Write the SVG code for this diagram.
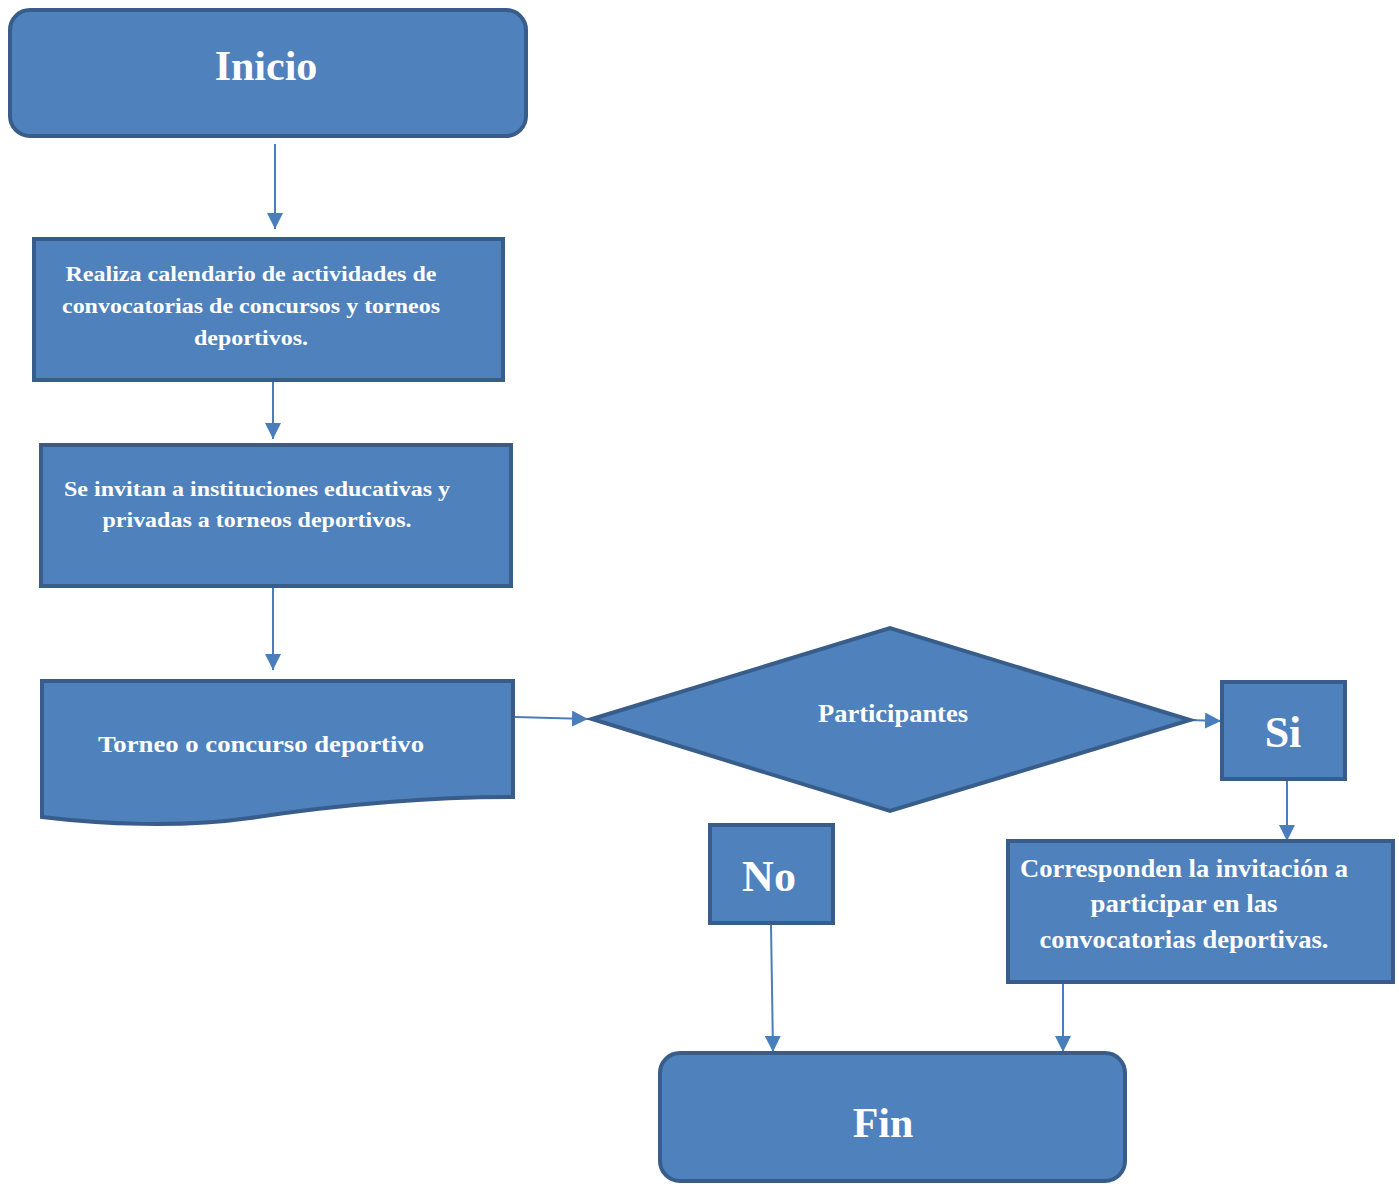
<svg xmlns="http://www.w3.org/2000/svg" width="1399" height="1184" viewBox="0 0 1399 1184">
<defs>
<style>
.n{fill:#4F81BD;stroke:#385D8A;stroke-width:4}
.t{fill:#FFFFFF;font-family:"Liberation Serif","Times New Roman",serif;font-weight:bold;text-anchor:middle}
.c{stroke:#4A7EBB;stroke-width:2;fill:none;marker-end:url(#ah)}
</style>
<marker id="ah" viewBox="0 0 10 10" refX="10" refY="5" markerWidth="16" markerHeight="16" markerUnits="userSpaceOnUse" orient="auto">
<path d="M0,0 L10,5 L0,10 Z" fill="#4A7EBB"/>
</marker>
</defs>
<rect width="1399" height="1184" fill="#FFFFFF"/>
<g id="connectors">
<line x1="275" y1="144" x2="275" y2="229" class="c"/>
<line x1="273" y1="381" x2="273" y2="439" class="c"/>
<line x1="273" y1="587" x2="273" y2="670" class="c"/>
<line x1="515" y1="717" x2="588" y2="719" class="c"/>
<line x1="1188" y1="720" x2="1221" y2="721" class="c"/>
<line x1="1287" y1="748" x2="1287" y2="841" class="c"/>
<line x1="771" y1="924" x2="773" y2="1052" class="c"/>
<line x1="1063" y1="983" x2="1063" y2="1052" class="c"/>
</g>
<g id="inicio">
<rect x="10" y="10" width="516" height="126" rx="20" class="n"/>
<text x="266" y="80" class="t" font-size="42">Inicio</text>
</g>
<g id="calendario">
<rect x="34" y="239" width="469" height="141" class="n"/>
<text x="251" y="281" class="t" font-size="22" textLength="371" lengthAdjust="spacingAndGlyphs">Realiza calendario de actividades de</text>
<text x="251" y="313" class="t" font-size="22" textLength="378" lengthAdjust="spacingAndGlyphs">convocatorias de concursos y torneos</text>
<text x="251" y="345" class="t" font-size="22" textLength="114" lengthAdjust="spacingAndGlyphs">deportivos.</text>
</g>
<g id="invitan">
<rect x="41" y="445" width="470" height="141" class="n"/>
<text x="257" y="496" class="t" font-size="22" textLength="386" lengthAdjust="spacingAndGlyphs">Se invitan a instituciones educativas y</text>
<text x="257" y="527" class="t" font-size="22" textLength="309" lengthAdjust="spacingAndGlyphs">privadas a torneos deportivos.</text>
</g>
<g id="torneo">
<path d="M42,681 H513 V797 C420,797 330,806 250,818 C180,828 100,824 42,817 Z" class="n"/>
<text x="261" y="752" class="t" font-size="24" textLength="326" lengthAdjust="spacingAndGlyphs">Torneo o concurso deportivo</text>
</g>
<g id="participantes">
<polygon points="592,719 890,628 1190,720 890,811" class="n"/>
<text x="893" y="722" class="t" font-size="26" textLength="150" lengthAdjust="spacingAndGlyphs">Participantes</text>
</g>
<g id="si">
<rect x="1222" y="682" width="123" height="97" class="n"/>
<text x="1283" y="747" class="t" font-size="44">Si</text>
</g>
<g id="no">
<rect x="710" y="825" width="123" height="98" class="n"/>
<text x="769" y="891" class="t" font-size="44">No</text>
</g>
<g id="corresponden">
<rect x="1008" y="841" width="385" height="141" class="n"/>
<text x="1184" y="877" class="t" font-size="25" textLength="328" lengthAdjust="spacingAndGlyphs">Corresponden la invitación a</text>
<text x="1184" y="912" class="t" font-size="25" textLength="187" lengthAdjust="spacingAndGlyphs">participar en las</text>
<text x="1184" y="948" class="t" font-size="25" textLength="289" lengthAdjust="spacingAndGlyphs">convocatorias deportivas.</text>
</g>
<g id="fin">
<rect x="660" y="1053" width="465" height="128" rx="20" class="n"/>
<text x="883" y="1137" class="t" font-size="42">Fin</text>
</g>
</svg>
